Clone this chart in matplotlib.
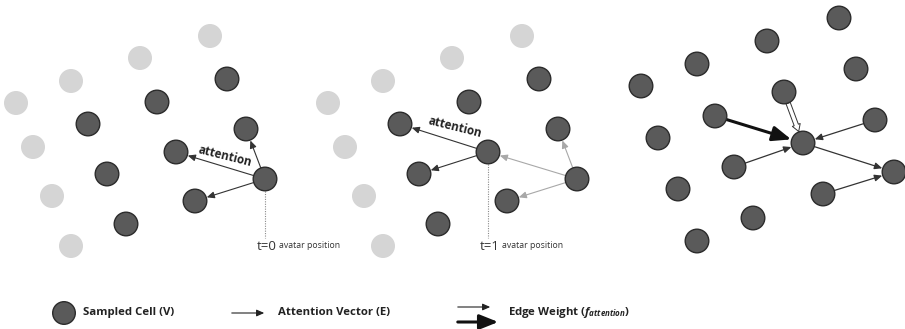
import numpy as np
import matplotlib
matplotlib.use("Agg")
import matplotlib.pyplot as plt
from matplotlib.patches import Circle, FancyArrowPatch

plt.rcParams['font.family'] = ['Open Sans', 'DejaVu Sans']
plt.rcParams['mathtext.fontset'] = 'custom'
plt.rcParams['mathtext.it'] = 'Open Sans:italic:bold'
plt.rcParams['mathtext.rm'] = 'Open Sans:bold'
plt.rcParams['mathtext.bf'] = 'Open Sans:bold'

# ---- data: node layout shared by panels 1 and 2 (panel-local coords) ----
faded_x = [210, 140, 71, 16, 33, 52, 71]
faded_y = [36, 58, 81, 103, 147, 196, 246]
cell_x = [227, 157, 88, 246, 176, 107, 265, 195, 126]
cell_y = [79, 102, 124, 129, 152, 174, 179, 201, 224]
avatar_t0 = 6
avatar_t1 = 4
edges_t0 = [(6, 3), (6, 4), (6, 7)]
edges_t1_active = [(4, 2), (4, 5)]
edges_t1_past = [(6, 4), (6, 3), (6, 7)]

# ---- data: panel 3 graph ----
g_x = [839, 767, 697, 856, 641, 784, 715, 875, 658, 803, 734, 894, 678, 823, 753, 697]
g_y = [18, 41, 64, 69, 86, 92, 116, 120, 138, 143, 167, 172, 189, 194, 218, 241]
g_thin_edges = [(10, 9), (7, 9), (9, 11), (13, 11)]
g_thick_edges = [(6, 9)]
g_hollow_edges = [(5, 9)]

panel_offsets = [0, 312]
time_labels = ["t=0", "t=1"]
legend_labels = ["Sampled Cell (V)", "Attention Vector (E)",
                 r"Edge Weight ($f_{attention}$)"]

DARK = '#5a5a5a'
EDGE = '#2b2b2b'
LIGHT = '#d5d5d5'
R = 11.8

fig = plt.figure(figsize=(9.05, 3.29), dpi=100)
ax = fig.add_axes([0, 0, 1, 1])
ax.set_xlim(0, 905)
ax.set_ylim(329, 0)
ax.axis('off')


def node(x, y, fc=DARK, ec=EDGE, r=R):
    ax.add_patch(Circle((x, y), r, facecolor=fc, edgecolor=ec if ec else fc,
                        lw=1.0, zorder=3))


def arrow(p, q, color='#333333', lw=0.8, style='-|>,head_length=0.45,head_width=0.2',
          ms=10, fc=None, r=R, z=2):
    p = np.array(p, float); q = np.array(q, float)
    d = (q - p) / np.linalg.norm(q - p)
    a = p + d * r
    b = q - d * (r + 0.5)
    ax.add_patch(FancyArrowPatch(a, b, arrowstyle=style, mutation_scale=ms,
                                 edgecolor=color, lw=lw, zorder=z,
                                 facecolor=fc if fc else color,
                                 shrinkA=0, shrinkB=0))


# panels 1 and 2
for k, off in enumerate(panel_offsets):
    for x, y in zip(faded_x, faded_y):
        node(x + off, y, fc=LIGHT, ec=None, r=11.3)
    for x, y in zip(cell_x, cell_y):
        node(x + off, y)
    P = lambda i: (cell_x[i] + off, cell_y[i])
    if k == 0:
        for s, t in edges_t0:
            arrow(P(s), P(t))
        av = avatar_t0
        lab_pos = (225, 156)
    else:
        for s, t in edges_t1_active:
            arrow(P(s), P(t))
        for s, t in edges_t1_past:
            arrow(P(s), P(t), color='#a8a8a8')
        av = avatar_t1
        lab_pos = (455, 127)
    ax.text(lab_pos[0], lab_pos[1], 'attention', fontsize=8.4, fontweight='bold',
            rotation=-14, rotation_mode='anchor', ha='center', va='center',
            color='#222222', zorder=5)
    ax_x, ax_y = P(av)
    ax.plot([ax_x, ax_x], [ax_y + R, 238], ls=(0, (1, 1.2)), color='#8a8a8a',
            lw=0.8, zorder=1)
    t = ax.text(ax_x - 8, 246, time_labels[k], fontsize=9.5, ha='left',
                va='center', color='#333333')
    ax.annotate('avatar position', xy=(1, 0.2), xycoords=t,
                xytext=(1.5, 0), textcoords='offset points', fontsize=6.3,
                ha='left', va='bottom', color='#333333')

# panel 3
for x, y in zip(g_x, g_y):
    node(x, y)
G = lambda i: (g_x[i], g_y[i])
for s, t in g_thin_edges:
    arrow(G(s), G(t), lw=0.9)
for s, t in g_thick_edges:
    arrow(G(s), G(t), color='#111111', lw=2.2,
          style='-|>,head_length=0.75,head_width=0.3', ms=15)
for s, t in g_hollow_edges:
    arrow(G(s), G(t), color='#333333', lw=0.7, fc='white',
          style='simple,head_length=0.5,head_width=0.6,tail_width=0.32', ms=10)

# legend
ly = 313
node(64, ly, r=11.3)
ax.text(83, ly, legend_labels[0], fontsize=8.2, fontweight='bold', va='center',
        ha='left', color='#222222')
ax.add_patch(FancyArrowPatch((229, ly), (267, ly),
                             arrowstyle='-|>,head_length=0.45,head_width=0.2',
                             mutation_scale=10, color='#222222', lw=0.8))
ax.text(278, ly, legend_labels[1], fontsize=8.2, fontweight='bold', va='center',
        ha='left', color='#222222')
ax.add_patch(FancyArrowPatch((455, 307), (493, 307),
                             arrowstyle='-|>,head_length=0.45,head_width=0.2',
                             mutation_scale=10, color='#222222', lw=0.8))
ax.add_patch(FancyArrowPatch((455, 322), (501, 322),
                             arrowstyle='-|>,head_length=0.75,head_width=0.3',
                             mutation_scale=15, color='#111111', lw=2.2))
ax.text(508, ly, legend_labels[2], fontsize=8.2, fontweight='bold', va='center',
        ha='left', color='#222222')

fig.savefig('out.png', dpi=100)
